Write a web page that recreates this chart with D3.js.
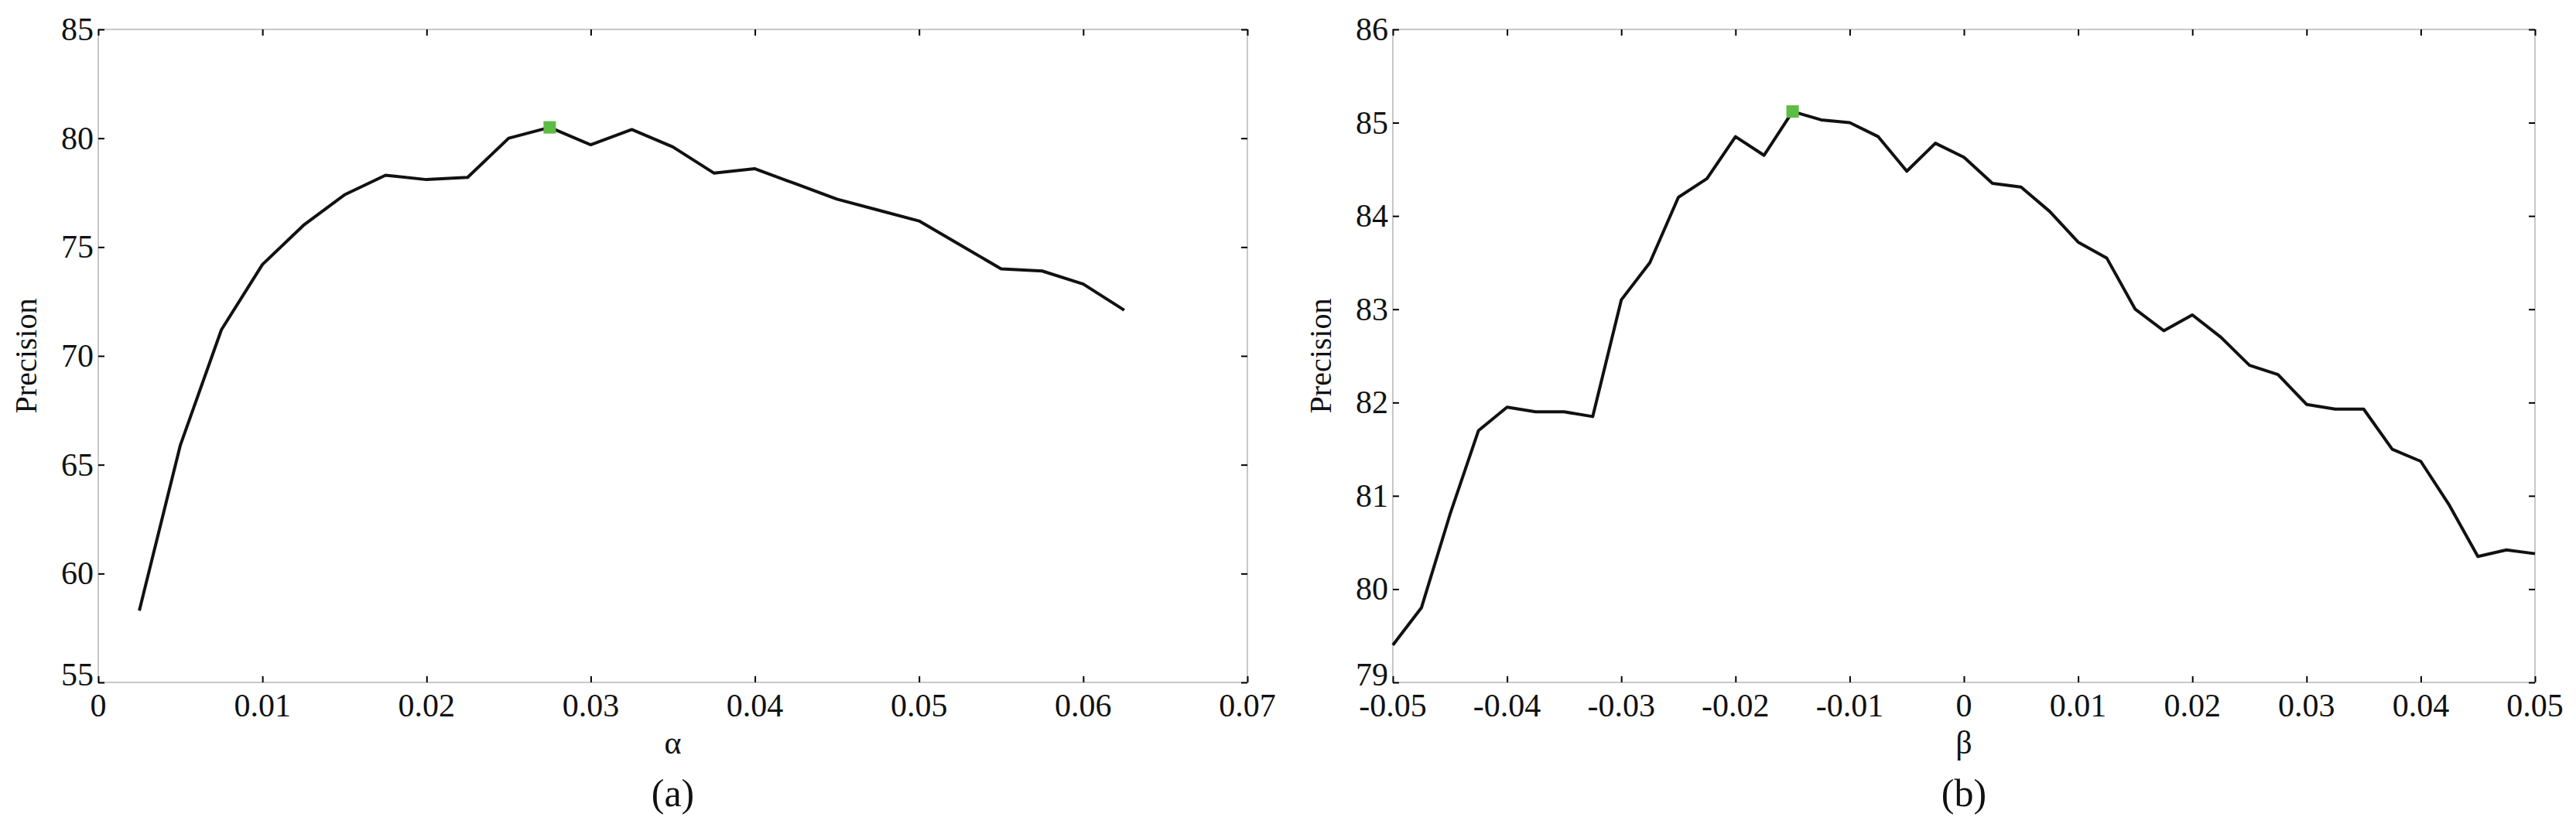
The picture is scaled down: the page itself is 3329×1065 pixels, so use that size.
<!DOCTYPE html>
<html>
<head>
<meta charset="utf-8">
<script src="https://cdn.jsdelivr.net/npm/d3@7"></script>
<style>
  body { margin: 0; background: #fff; }
  svg text { font-family: "Liberation Serif", "Times New Roman", "DejaVu Serif", serif; fill: #111; }
</style>
</head>
<body>
<svg id="chart" width="3329" height="1065"></svg>
<script>
// panel (a)
var alphaX = [0.0025, 0.005, 0.0075, 0.01, 0.0125, 0.015, 0.0175, 0.02, 0.0225, 0.025,
  0.0275, 0.03, 0.0325, 0.035, 0.0375, 0.04, 0.0425, 0.045, 0.0475, 0.05,
  0.0525, 0.055, 0.0575, 0.06, 0.0625];
var alphaPrec = [58.3, 65.9, 71.2, 74.2, 76.0, 77.4, 78.3, 78.1, 78.2, 80.0,
  80.5, 79.7, 80.4, 79.6, 78.4, 78.6, 77.9, 77.2, 76.7, 76.2,
  75.1, 74.0, 73.9, 73.3, 72.1];
var alphaTicks = [0, 0.01, 0.02, 0.03, 0.04, 0.05, 0.06, 0.07];
var alphaYTicks = [55, 60, 65, 70, 75, 80, 85];

// panel (b)
var betaX = [-0.05, -0.0475, -0.045, -0.0425, -0.04, -0.0375, -0.035, -0.0325, -0.03, -0.0275,
  -0.025, -0.0225, -0.02, -0.0175, -0.015, -0.0125, -0.01, -0.0075, -0.005, -0.0025,
  0, 0.0025, 0.005, 0.0075, 0.01, 0.0125, 0.015, 0.0175, 0.02, 0.0225,
  0.025, 0.0275, 0.03, 0.0325, 0.035, 0.0375, 0.04, 0.0425, 0.045, 0.0475, 0.05];
var betaPrec = [79.4, 79.8, 80.8, 81.7, 81.95, 81.9, 81.9, 81.85, 83.1, 83.5,
  84.2, 84.4, 84.85, 84.65, 85.12, 85.03, 85.0, 84.85, 84.48, 84.78,
  84.63, 84.35, 84.31, 84.05, 83.72, 83.55, 83.0, 82.77, 82.94, 82.7,
  82.4, 82.3, 81.98, 81.93, 81.93, 81.5, 81.37, 80.9, 80.35, 80.42, 80.38];
var betaTicks = [-0.05, -0.04, -0.03, -0.02, -0.01, 0, 0.01, 0.02, 0.03, 0.04, 0.05];
var betaYTicks = [79, 80, 81, 82, 83, 84, 85, 86];

var svg = d3.select("#chart");
var serif = "'Liberation Serif', 'Times New Roman', serif";

function panel(o) {
  var x = d3.scaleLinear().domain(o.xd).range([o.left, o.right]);
  var y = d3.scaleLinear().domain(o.yd).range([o.bottom, o.top]);
  var g = svg.append("g").attr("font-family", serif);

  g.append("rect")
    .attr("x", o.left).attr("y", o.top)
    .attr("width", o.right - o.left).attr("height", o.bottom - o.top)
    .attr("fill", "none").attr("stroke", "#c8c8c8").attr("stroke-width", 2);

  // inward ticks on all four sides
  function ticks(ax, tr, vals) {
    var a = g.append("g").attr("transform", tr)
      .call(ax.tickValues(vals).tickSize(-8).tickFormat(""));
    a.select(".domain").remove();
    a.selectAll(".tick line").attr("stroke", "#000").attr("stroke-width", 2);
  }
  ticks(d3.axisBottom(x), "translate(0," + o.bottom + ")", o.xt);
  ticks(d3.axisTop(x), "translate(0," + o.top + ")", o.xt);
  ticks(d3.axisLeft(y), "translate(" + o.left + ",0)", o.yt);
  ticks(d3.axisRight(y), "translate(" + o.right + ",0)", o.yt);

  g.selectAll(".xl").data(o.xt).enter().append("text")
    .attr("x", function(d) { return x(d); }).attr("y", o.bottom + 44)
    .attr("text-anchor", "middle").attr("font-size", 42)
    .text(function(d) { return String(+d.toFixed(2)); });
  g.selectAll(".yl").data(o.yt).enter().append("text")
    .attr("x", o.left - 6)
    .attr("y", function(d, i) { return y(d) + (i === 0 ? 4 : 14); })
    .attr("text-anchor", "end").attr("font-size", 42)
    .text(function(d) { return d; });

  g.append("text")
    .attr("transform", "translate(" + (o.left - 80) + "," + ((o.top + o.bottom) / 2) + ") rotate(-90)")
    .attr("text-anchor", "middle").attr("font-size", 40).text("Precision");
  g.append("text")
    .attr("x", (o.left + o.right) / 2).attr("y", o.bottom + 92)
    .attr("text-anchor", "middle").attr("font-size", 42).text(o.xlabel);
  g.append("text")
    .attr("x", (o.left + o.right) / 2).attr("y", o.bottom + 160)
    .attr("text-anchor", "middle").attr("font-size", 50).text(o.caption);

  var line = d3.line().x(function(d, i) { return x(o.xs[i]); }).y(function(d) { return y(d); });
  g.append("path").datum(o.ys)
    .attr("d", line).attr("fill", "none").attr("stroke", "#111").attr("stroke-width", 4)
    .attr("stroke-linejoin", "round");

  var best = d3.maxIndex(o.ys);
  g.append("rect")
    .attr("x", x(o.xs[best]) - 8).attr("y", y(o.ys[best]) - 8)
    .attr("width", 16).attr("height", 16).attr("fill", "#5dbb46");
}

panel({ xs: alphaX, ys: alphaPrec, xd: [0, 0.07], yd: [55, 85], xt: alphaTicks, yt: alphaYTicks,
  left: 127, right: 1612, top: 38, bottom: 882, xlabel: "α", caption: "(a)" });
panel({ xs: betaX, ys: betaPrec, xd: [-0.05, 0.05], yd: [79, 86], xt: betaTicks, yt: betaYTicks,
  left: 1800, right: 3276, top: 38, bottom: 882, xlabel: "β", caption: "(b)" });
</script>
</body>
</html>
